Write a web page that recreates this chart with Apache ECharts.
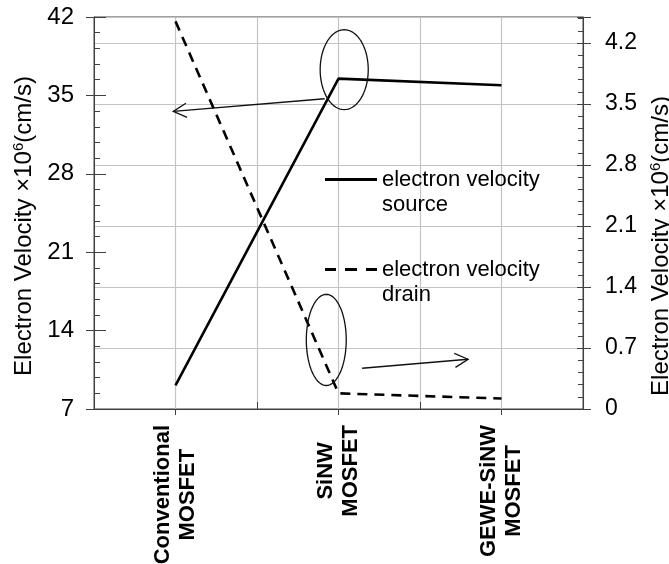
<!DOCTYPE html>
<html>
<head>
<meta charset="utf-8">
<script src="https://cdn.jsdelivr.net/npm/echarts@6/dist/echarts.min.js"></script>
<style>
  html, body { margin: 0; padding: 0; background: #ffffff; }
  #chart { width: 669px; height: 564px; }
</style>
</head>
<body>
<div id="chart"></div>
<script>
// Device types along the bottom axis (two-line names)
const categories = ['Conventional\nMOSFET', 'SiNW\nMOSFET', 'GEWE-SiNW\nMOSFET'];

// Electron velocity at the source end (left axis, ×10^6 cm/s)
const sourceVelocity = [9.1, 36.5, 35.9];
// Electron velocity at the drain end (right axis, ×10^6 cm/s)
const drainVelocity = [4.45, 0.18, 0.12];

// Axis ranges and tick steps
const leftMin = 7, leftMax = 42, leftStep = 7;
const rightMin = 0, rightMax = 4.5, rightStep = 0.7;
const rightTickLabels = ['0', '0.7', '1.4', '2.1', '2.8', '3.5', '4.2'];

const seriesNames = ['electron velocity\nsource', 'electron velocity\ndrain'];

const FONT = 'Liberation Sans, Arial, Helvetica, sans-serif';
const AXIS_COLOR = '#404040';
const GRID_COLOR = '#c4c4c4';
const CAT_FONT = 'bold 22px "Liberation Sans", Arial, sans-serif';
const CAT_LINE_HEIGHT = 25;

// Each line of a category name is drawn by its own category axis so that the
// shorter line can be centred on the longer one.
const measureCtx = document.createElement('canvas').getContext('2d');
measureCtx.font = CAT_FONT;
function categoryLineData(lineIndex) {
  return categories.map(function (cat) {
    const lines = cat.split('\n');
    const widths = lines.map(function (s) { return measureCtx.measureText(s).width; });
    const longest = Math.max.apply(null, widths);
    // right padding moves the rotated line away from the axis
    return { value: cat, textStyle: { padding: [0, (longest - widths[lineIndex]) / 2, 0, 0] } };
  });
}

function categoryAxis(lineIndex, showLine) {
  return {
    type: 'category',
    position: 'bottom',
    data: categoryLineData(lineIndex),
    boundaryGap: true,
    axisLine: { show: showLine, lineStyle: { color: AXIS_COLOR, width: 1 } },
    axisTick: { show: showLine, alignWithLabel: true, inside: false, length: 6, lineStyle: { color: AXIS_COLOR } },
    splitLine: { show: false },
    axisLabel: {
      rotate: 90,
      margin: 16,
      interval: 0,
      fontSize: 22,
      fontWeight: 'bold',
      fontFamily: FONT,
      color: '#000',
      lineHeight: CAT_LINE_HEIGHT,
      // an empty companion line places this line on its own side of the tick
      formatter: function (v) {
        const line = v.split('\n')[lineIndex];
        return lineIndex === 0 ? line + '\n ' : ' \n' + line;
      }
    }
  };
}

const chart = echarts.init(document.getElementById('chart'), null, { renderer: 'canvas' });

const titleRich = {
  t: { fontSize: 24, fontFamily: FONT, color: '#000' },
  s: { fontSize: 15, fontFamily: FONT, color: '#000', padding: [0, 0, 12, 0] }
};
const axisTitle = '{t|Electron Velocity ×10}{s|6}{t|(cm/s)}';

// Legend icons: a solid bar and a three-dash bar
const legendIcons = [
  'path://M0,0H52V3H0Z',
  'path://M0,0H11V3H0Z M20,0H32V3H20Z M41,0H52V3H41Z'
];

const option = {
  backgroundColor: '#ffffff',
  animation: false,
  grid: {
    left: 94, right: 86, top: 17, bottom: 155,
    outerBoundsMode: 'none',
    containLabel: false,
    show: true, borderColor: AXIS_COLOR, borderWidth: 1, backgroundColor: 'transparent'
  },
  legend: {
    orient: 'vertical',
    left: 320,
    top: 137,
    itemWidth: 52,
    itemHeight: 3,
    itemGap: 15,
    selectedMode: false,
    data: seriesNames.map(function (n, i) { return { name: n, icon: legendIcons[i], itemStyle: { color: '#000' } }; }),
    formatter: function (name) { return '\n' + name; },
    textStyle: { fontSize: 22, fontFamily: FONT, color: '#000', lineHeight: 25 }
  },
  xAxis: [
    categoryAxis(0, true),
    {
      // helper scale: one unit per half category, used for the vertical grid and boundary ticks
      type: 'value',
      position: 'bottom',
      min: 0, max: 6, interval: 2,
      axisLine: { show: false },
      axisLabel: { show: false },
      axisTick: { show: true, inside: true, length: 7, lineStyle: { color: AXIS_COLOR } },
      splitLine: { show: true, lineStyle: { color: GRID_COLOR, width: 1.2 } },
      minorTick: { show: false, splitNumber: 2 },
      minorSplitLine: { show: true, lineStyle: { color: GRID_COLOR, width: 1.2 } }
    },
    categoryAxis(1, false)
  ],
  yAxis: [
    {
      type: 'value', position: 'left',
      min: leftMin, max: leftMax, interval: leftStep,
      axisLine: { show: true, lineStyle: { color: AXIS_COLOR } },
      axisTick: { show: true, inside: false, length: 8, lineStyle: { color: AXIS_COLOR } },
      axisLabel: { margin: 20, fontSize: 24, fontFamily: FONT, color: '#000' },
      splitLine: { show: false },
      name: axisTitle,
      nameLocation: 'middle',
      nameGap: 40,
      nameRotate: 90,
      nameTextStyle: { rich: titleRich, padding: [0, 26, 0, 0] }
    },
    {
      type: 'value', position: 'right',
      min: rightMin, max: rightMax, interval: rightStep,
      axisLine: { show: true, lineStyle: { color: AXIS_COLOR } },
      axisTick: { show: true, inside: false, length: 8, lineStyle: { color: AXIS_COLOR } },
      axisLabel: {
        margin: 22, fontSize: 23, fontFamily: FONT, color: '#000',
        formatter: function (v) {
          const k = Math.round(v / rightStep);
          return Math.abs(k * rightStep - v) < 1e-6 && rightTickLabels[k] !== undefined ? rightTickLabels[k] : '';
        }
      },
      splitLine: { show: true, lineStyle: { color: GRID_COLOR, width: 1.2 } },
      name: axisTitle,
      nameLocation: 'middle',
      nameGap: 57,
      nameRotate: 90,
      nameTextStyle: { rich: titleRich, padding: [0, 66, 0, 0] }
    },
    {
      // inner half of the left ticks plus minor ticks
      type: 'value', position: 'left',
      min: leftMin, max: leftMax, interval: leftStep,
      axisLine: { show: false },
      axisLabel: { show: false },
      splitLine: { show: false },
      axisTick: { show: true, inside: true, length: 12, lineStyle: { color: AXIS_COLOR } },
      minorTick: { show: true, splitNumber: 5, length: 6, lineStyle: { color: AXIS_COLOR } }
    },
    {
      // inner half of the right ticks plus minor ticks
      type: 'value', position: 'right',
      min: rightMin, max: rightMax, interval: rightStep,
      axisLine: { show: false },
      axisLabel: { show: false },
      splitLine: { show: false },
      axisTick: { show: true, inside: true, length: 6, lineStyle: { color: AXIS_COLOR } },
      minorTick: { show: true, splitNumber: 5, length: 5, lineStyle: { color: AXIS_COLOR } }
    }
  ],
  series: [
    {
      name: seriesNames[0],
      type: 'line',
      xAxisIndex: 0, yAxisIndex: 0,
      data: sourceVelocity,
      symbol: 'none',
      lineStyle: { color: '#000', width: 2.6, type: 'solid' },
      itemStyle: { color: '#000' },
      z: 5
    },
    {
      name: seriesNames[1],
      type: 'line',
      xAxisIndex: 0, yAxisIndex: 1,
      data: drainVelocity,
      symbol: 'none',
      lineStyle: { color: '#000', width: 2.6, type: [10, 7] },
      itemStyle: { color: '#000' },
      z: 5
    }
  ]
};

chart.setOption(option);

// Callouts: ellipses around the SiNW points and arrows towards the axis each curve uses.
// Positions are given on the helper x scale (0..6) and the left y scale.
const callouts = {
  ellipses: [
    { cx: 3.07, cy: 37.3, rx: 0.295, ry: 3.57 },
    { cx: 2.85, cy: 13.17, rx: 0.245, ry: 4.07 }
  ],
  arrows: [
    { from: [2.83, 34.7], to: [0.973, 33.57] },
    { from: [3.29, 10.64], to: [4.59, 11.44] }
  ]
};

function toPx(p) {
  return chart.convertToPixel({ xAxisIndex: 1, yAxisIndex: 0 }, p);
}

const elements = [];
const stroke = { stroke: '#111', lineWidth: 1.3, fill: null };

callouts.ellipses.forEach(function (e) {
  const c = toPx([e.cx, e.cy]);
  const ex = toPx([e.cx + e.rx, e.cy]);
  const ey = toPx([e.cx, e.cy + e.ry]);
  const rxPx = Math.abs(ex[0] - c[0]);
  const ryPx = Math.abs(ey[1] - c[1]);
  const pts = [];
  const n = 72;
  for (let i = 0; i < n; i++) {
    const a = (i / n) * Math.PI * 2;
    pts.push([c[0] + rxPx * Math.cos(a), c[1] + ryPx * Math.sin(a)]);
  }
  elements.push({ type: 'polygon', shape: { points: pts }, style: Object.assign({}, stroke), z: 10 });
});

callouts.arrows.forEach(function (a) {
  const p0 = toPx(a.from);
  const p1 = toPx(a.to);
  const dx = p1[0] - p0[0], dy = p1[1] - p0[1];
  const len = Math.sqrt(dx * dx + dy * dy);
  const ux = dx / len, uy = dy / len;
  const head = 15, ang = 28 * Math.PI / 180;
  const cos = Math.cos(ang), sin = Math.sin(ang);
  const w1 = [p1[0] - head * (ux * cos - uy * sin), p1[1] - head * (uy * cos + ux * sin)];
  const w2 = [p1[0] - head * (ux * cos + uy * sin), p1[1] - head * (uy * cos - ux * sin)];
  elements.push({ type: 'line', shape: { x1: p0[0], y1: p0[1], x2: p1[0], y2: p1[1] }, style: Object.assign({}, stroke), z: 10 });
  elements.push({ type: 'polyline', shape: { points: [w1, p1, w2] }, style: Object.assign({}, stroke), z: 10 });
});

chart.setOption({ graphic: { elements: elements } });
</script>
</body>
</html>
